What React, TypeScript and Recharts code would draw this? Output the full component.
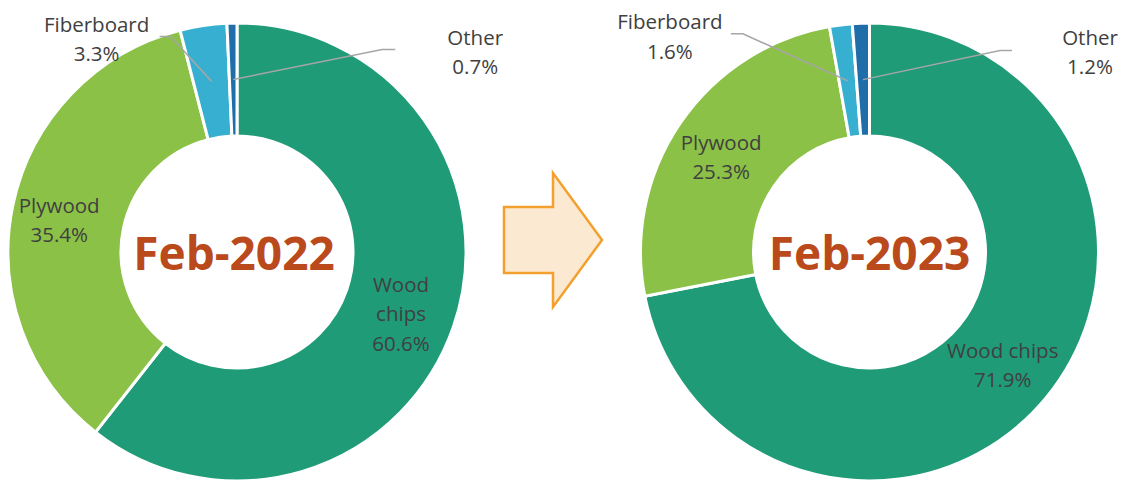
import { PieChart, Pie, Cell } from "recharts"

const categories = ["Wood chips", "Plywood", "Fiberboard", "Other"]
const share2022 = [60.6, 35.4, 3.3, 0.7]
const share2023 = [71.9, 25.3, 1.6, 1.2]
const periods = ["Feb-2022", "Feb-2023"]
const colors = ["#1F9B78", "#8BC147", "#37AFD0", "#1F6EA9"]

const W = 1139
const H = 481
const CY = 252
const CX_LEFT = 237
const CX_RIGHT = 869.5
const INNER = 116
const OUTER = 229
const RAD = Math.PI / 180
const LINE_H = 29.5
const FONT = "'Open Sans', 'Noto Sans', sans-serif"

// where the labels sit relative to the slice's mid point (excel-ish manual placement)
const layout2022: any = {
    "Wood chips": { lines: ["Wood", "chips"], dx: 1, dy: 5 },
    "Plywood": { dx: -9, dy: 3 },
    "Fiberboard": { elbow: [-41, -45], stub: [-52, -45], text: [-115, -43] },
    "Other": { elbow: [149, -30], stub: [162, -30], text: [242, -28] },
}
const layout2023: any = {
    "Wood chips": { dx: 0, dy: 3 },
    "Plywood": { dx: -6, dy: 2 },
    "Fiberboard": { elbow: [-105, -47], stub: [-117, -47], text: [-178, -45] },
    "Other": { elbow: [137, -29], stub: [149, -29], text: [227, -28] },
}

const toData = (values: number[]) => categories.map((name, i) => ({ name, value: values[i] }))

const makeLabel = (layout: any) => (props: any) => {
    const { cx, cy, midAngle, innerRadius, outerRadius, name, value } = props
    const r = (innerRadius + outerRadius) / 2
    const ax = cx + r * Math.cos(-midAngle * RAD)
    const ay = cy + r * Math.sin(-midAngle * RAD)
    const cfg = layout[name] || {}
    const lines = [...(cfg.lines || [name]), `${Number(value).toFixed(1)}%`]

    let tx = ax + (cfg.dx || 0)
    let ty = ay + (cfg.dy || 0)
    let leader = null
    if (cfg.text) {
        tx = ax + cfg.text[0]
        ty = ay + cfg.text[1]
        const pts = [[ax, ay], [ax + cfg.elbow[0], ay + cfg.elbow[1]], [ax + cfg.stub[0], ay + cfg.stub[1]]]
        leader = <polyline points={pts.map(p => p.join(",")).join(" ")} fill="none" stroke="#A6A6A6" strokeWidth={1.5} />
    }
    const y0 = ty - ((lines.length - 1) / 2) * LINE_H

    return (
        <g key={`lbl-${name}-${cx}`}>
            {leader}
            <text x={tx} y={y0} textAnchor="middle" dominantBaseline="central" fill="#404040" fontSize={20.5} fontFamily={FONT}>
                {lines.map((l, i) => (
                    <tspan key={i} x={tx} y={y0 + i * LINE_H}>{l}</tspan>
                ))}
            </text>
        </g>
    )
}

const App = () => {
    return (
        <div style={{ position: "absolute", left: 0, top: 0, width: W, height: H, background: "#fff" }}>
            <PieChart width={W} height={H} margin={{ top: 0, right: 0, bottom: 0, left: 0 }}>
                <Pie
                    data={toData(share2022)}
                    dataKey="value"
                    nameKey="name"
                    cx={CX_LEFT}
                    cy={CY}
                    innerRadius={INNER}
                    outerRadius={OUTER}
                    startAngle={90}
                    endAngle={-270}
                    stroke="#fff"
                    strokeWidth={3}
                    label={makeLabel(layout2022)}
                    labelLine={false}
                    isAnimationActive={false}
                >
                    {categories.map((c, i) => <Cell key={c} fill={colors[i]} />)}
                </Pie>
                <Pie
                    data={toData(share2023)}
                    dataKey="value"
                    nameKey="name"
                    cx={CX_RIGHT}
                    cy={CY}
                    innerRadius={INNER}
                    outerRadius={OUTER}
                    startAngle={90}
                    endAngle={-270}
                    stroke="#fff"
                    strokeWidth={3}
                    label={makeLabel(layout2023)}
                    labelLine={false}
                    isAnimationActive={false}
                >
                    {categories.map((c, i) => <Cell key={c} fill={colors[i]} />)}
                </Pie>
            </PieChart>
            <svg width={W} height={H} style={{ position: "absolute", left: 0, top: 0, pointerEvents: "none" }}>
                {/* arrow between the two donuts */}
                <polygon
                    points="504,207 553,207 553,173 602,240 553,307 553,273 504,273"
                    fill="#FCE9D2"
                    stroke="#F2A02E"
                    strokeWidth={2.5}
                    strokeLinejoin="miter"
                />
                {[CX_LEFT - 3, CX_RIGHT].map((x, i) => (
                    <text key={periods[i]} x={x} y={CY} textAnchor="middle" dominantBaseline="central"
                        fill="#BA4A1C" fontSize={46} fontWeight="bold" fontFamily={FONT}>
                        {periods[i]}
                    </text>
                ))}
            </svg>
        </div>
    )
}

export default App
